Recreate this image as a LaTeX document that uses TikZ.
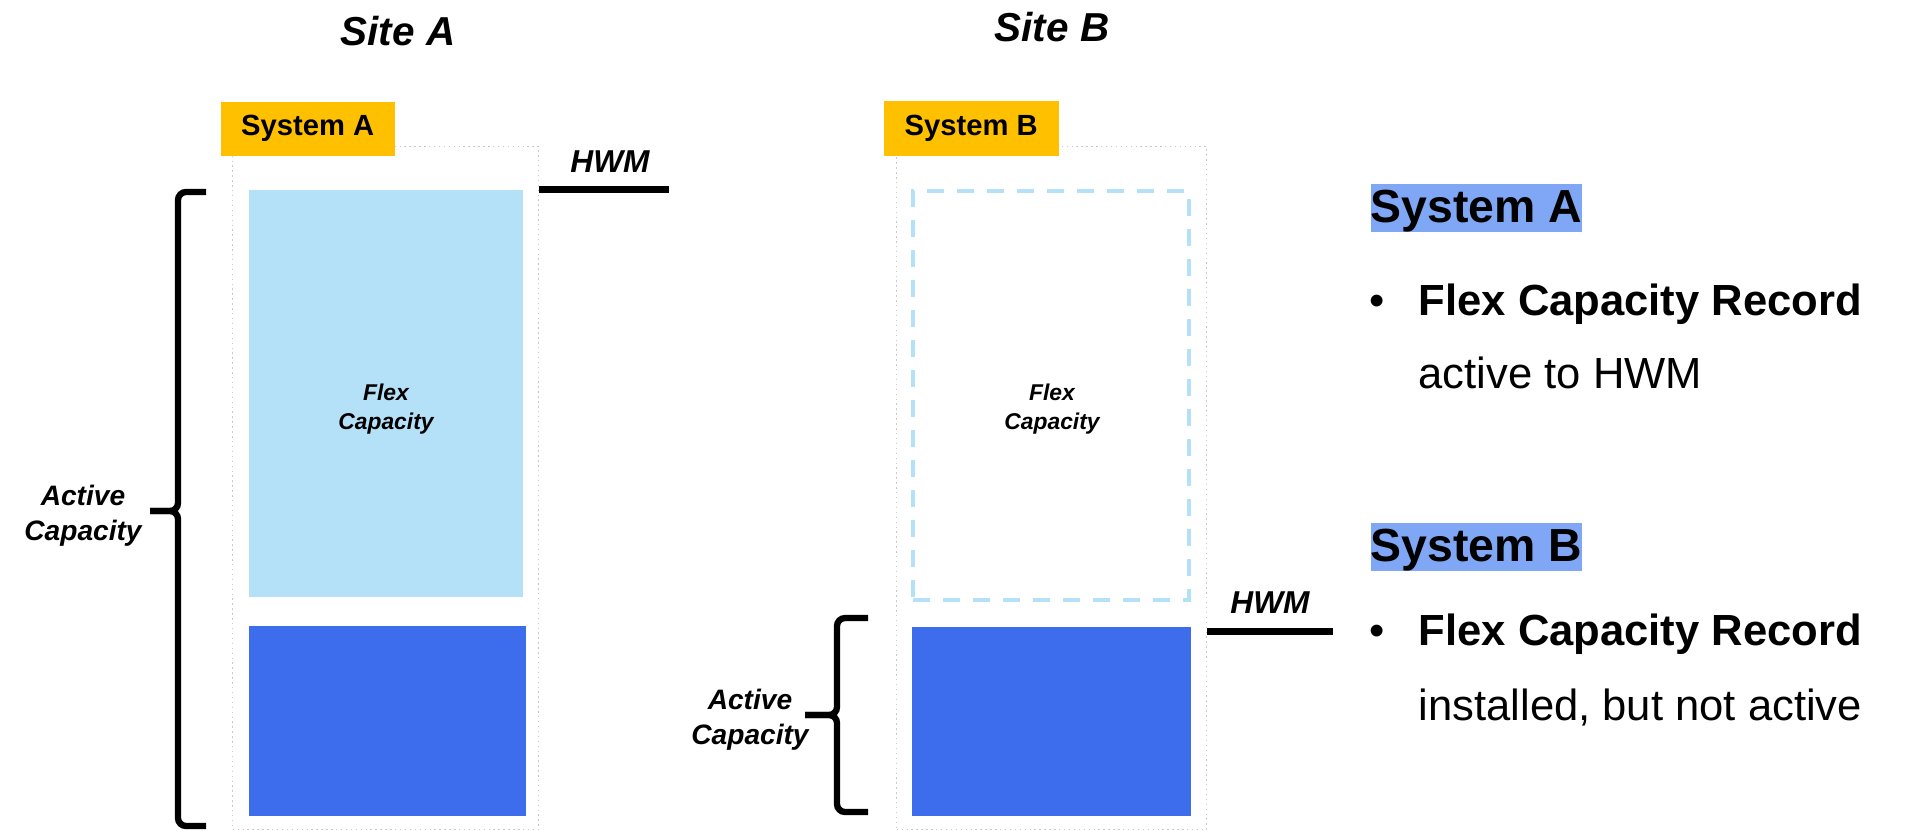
\documentclass[tikz,border=0pt]{standalone}
\usepackage{fontspec}
\setmainfont{Liberation Sans}
\usetikzlibrary{positioning,calc}

\definecolor{tagyellow}{HTML}{FFC000}
\definecolor{flexblue}{HTML}{B4E1F7}
\definecolor{coreblue}{HTML}{3D6CEC}
\definecolor{markblue}{HTML}{7FA7F5}
\definecolor{framegray}{HTML}{C8C8C8}

\tikzset{
    frame/.style={draw=framegray, densely dotted, line width=0.4pt, anchor=north west, inner sep=0pt},
    tag/.style={fill=tagyellow, anchor=north west, inner sep=0pt, minimum width=1.74cm, minimum height=0.54cm, font=\fontsize{8.3}{10}\selectfont\bfseries},
    block/.style={anchor=north west, inner sep=0pt},
    sitelbl/.style={font=\fontsize{11.5}{13}\selectfont\bfseries\itshape},
    hwmlbl/.style={font=\fontsize{9}{11}\selectfont\bfseries\itshape},
    hwmline/.style={line width=2pt},
    caplbl/.style={align=center, font=\fontsize{8}{10}\selectfont\bfseries\itshape},
    flexlbl/.style={align=center, font=\fontsize{6.5}{8.3}\selectfont\bfseries\itshape},
    capbracket/.style={line width=1.8pt, rounded corners=0.08cm},
    heading/.style={fill=markblue, anchor=base west, inner sep=0pt, text height=10.8pt, text depth=2.8pt, font=\fontsize{13.2}{15}\selectfont\bfseries},
    body/.style={anchor=base west, inner sep=0pt, font=\fontsize{12.4}{15}\selectfont}
}

\begin{document}
\begin{tikzpicture}
        \useasboundingbox (0,0) rectangle (19.14,-8.30);

        \node[sitelbl] (siteA) at (3.98,-0.31) {Site A};
        \node[frame, minimum width=3.06cm, minimum height=6.83cm] (contA) at (2.32,-1.46) {};
        \node[tag] (tagA) at (2.20,-1.01) {System A};
        \node[block, fill=flexblue, minimum width=2.74cm, minimum height=4.07cm] (flexA) at (2.48,-1.89) {};
        \node[block, fill=coreblue, minimum width=2.77cm, minimum height=1.90cm] (coreA) at (2.48,-6.25) {};
        \node[flexlbl] (flexlblA) at (3.86,-4.09) {Flex\\Capacity};
        \coordinate (hwmAend) at (6.69,-1.89);
        \draw[hwmline] (contA.east |- flexA.north) -- (hwmAend);
        \node[hwmlbl] (hwmA) at (6.10,-1.62) {HWM};
        \coordinate (braceAtop) at (2.06,-1.92);
        \coordinate (braceAbot) at (2.06,-8.26);
        \coordinate (braceAmid) at (1.78,-5.11);
        \coordinate (braceAtip) at (1.50,-5.11);
        \draw[capbracket] (braceAtop) -- (braceAtop -| braceAmid) -- (braceAmid) -- (braceAtip);
        \draw[capbracket] (braceAbot) -- (braceAbot -| braceAmid) -- (braceAmid) -- (braceAtip);
        \node[caplbl] (activeA) at (0.83,-5.16) {Active\\Capacity};

        \node[sitelbl] (siteB) at (10.52,-0.27) {Site B};
        \node[frame, minimum width=3.10cm, minimum height=6.83cm] (contB) at (8.96,-1.46) {};
        \node[tag, minimum width=1.75cm, minimum height=0.55cm] (tagB) at (8.83,-1.00) {System B};
        \node[block, draw=flexblue, line width=1.2pt, dash pattern=on 0.17cm off 0.13cm, minimum width=2.76cm, minimum height=4.09cm] (flexB) at (9.11,-1.89) {};
        \node[block, fill=coreblue, minimum width=2.79cm, minimum height=1.89cm] (coreB) at (9.11,-6.26) {};
        \node[flexlbl] (flexlblB) at (10.52,-4.09) {Flex\\Capacity};
        \coordinate (hwmBend) at (13.33,-6.31);
        \draw[hwmline] (contB.east |- hwmBend) -- (hwmBend);
        \node[hwmlbl] (hwmB) at (12.70,-6.03) {HWM};
        \coordinate (braceBtop) at (8.68,-6.18);
        \coordinate (braceBbot) at (8.68,-8.12);
        \coordinate (braceBmid) at (8.37,-7.15);
        \coordinate (braceBtip) at (8.05,-7.15);
        \draw[capbracket] (braceBtop) -- (braceBtop -| braceBmid) -- (braceBmid) -- (braceBtip);
        \draw[capbracket] (braceBbot) -- (braceBbot -| braceBmid) -- (braceBmid) -- (braceBtip);
        \node[caplbl] (activeB) at (7.50,-7.20) {Active\\Capacity};

        \node[heading] (headA) at (13.70,-2.22) {System A};
        \node[body, font=\fontsize{12.4}{15}\selectfont\bfseries] (recA) at (14.18,-3.15) {Flex Capacity Record};
        \node[body, anchor=base] (dotA) at (13.77,-3.15) {\textbullet};
        \node[body] (noteA) at (14.18,-3.88) {active to HWM};

        \node[heading] (headB) at (13.70,-5.61) {System B};
        \node[body, font=\fontsize{12.4}{15}\selectfont\bfseries] (recB) at (14.18,-6.45) {Flex Capacity Record};
        \node[body, anchor=base] (dotB) at (13.77,-6.45) {\textbullet};
        \node[body] (noteB) at (14.18,-7.20) {installed, but not active};

\end{tikzpicture}
\end{document}
